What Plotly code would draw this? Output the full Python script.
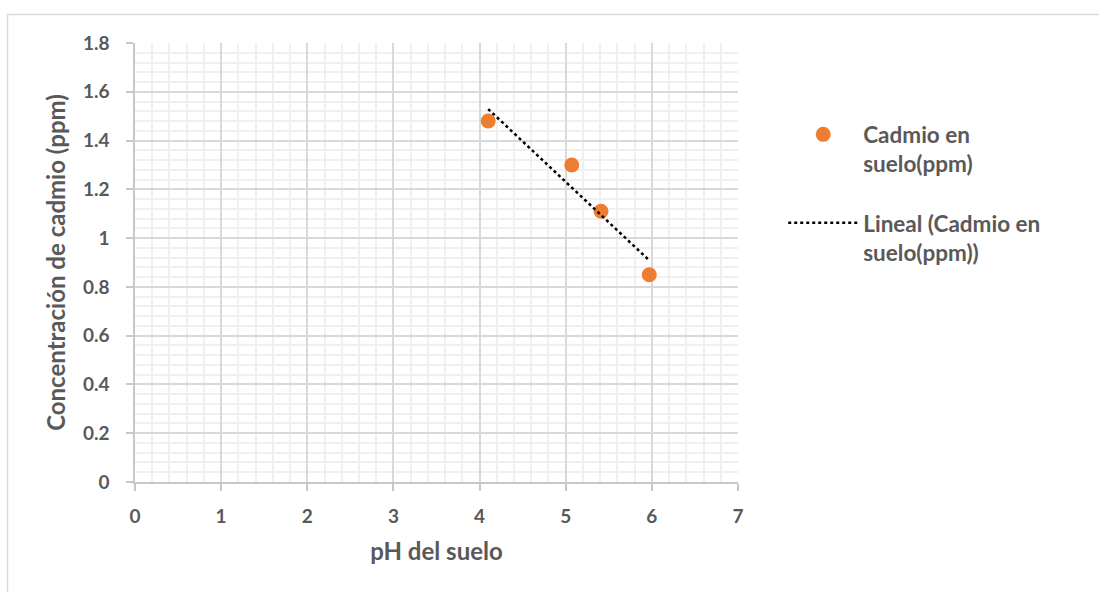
import numpy as np
import plotly.graph_objects as go

ph = [4.1, 5.07, 5.41, 5.97]
cadmio = [1.48, 1.30, 1.11, 0.85]
x_ticks = [0, 1, 2, 3, 4, 5, 6, 7]
y_ticks = [0, 0.2, 0.4, 0.6, 0.8, 1, 1.2, 1.4, 1.6, 1.8]
y_tick_text = ["0", "0.2", "0.4", "0.6", "0.8", "1", "1.2", "1.4", "1.6", "1.8"]

slope, intercept = np.polyfit(ph, cadmio, 1)
tx = [min(ph), max(ph)]
ty = [slope * v + intercept for v in tx]

FONT = "Lato"
GRAY = "#595959"

fig = go.Figure()
fig.add_trace(go.Scatter(
    x=ph, y=cadmio, mode="markers", name="Cadmio en<br>suelo(ppm)",
    marker=dict(color="#ED7D31", size=15), legendgroup="a"))
fig.add_trace(go.Scatter(
    x=tx, y=ty, mode="lines", name="Lineal (Cadmio en<br>suelo(ppm))",
    line=dict(color="black", width=2.5, dash="dot"), legendgroup="b"))

W, H = 1099, 592
L, R, T, B = 135, 361, 43, 110

fig.update_layout(
    width=W, height=H,
    margin=dict(l=L, r=R, t=T, b=B),
    paper_bgcolor="white", plot_bgcolor="white",
    font=dict(family=FONT, color=GRAY, size=18),
    showlegend=True,
    legend=dict(x=1.075, y=0.84, xanchor="left", yanchor="top", valign="top",
                font=dict(family=FONT, size=22.5, color=GRAY, weight="bold"),
                tracegroupgap=27, itemwidth=70, bgcolor="rgba(0,0,0,0)"),
    xaxis=dict(range=[0, 7], tickvals=x_ticks, ticktext=[str(v) for v in x_ticks],
               showgrid=True, gridcolor="#d9d9d9", gridwidth=1.5,
               minor=dict(dtick=0.2, showgrid=True, gridcolor="#f0f0f0", gridwidth=1.5),
               showline=True, linecolor="#c8c8c8", linewidth=1.5,
               ticks="outside", ticklen=7, tickcolor="#c8c8c8", tickwidth=1.5,
               ticklabelstandoff=9,
               zeroline=False,
               tickfont=dict(family=FONT, size=19, color=GRAY, weight="bold"),
               title=dict(text="pH del suelo", standoff=18,
                          font=dict(family=FONT, size=24, color=GRAY, weight="bold"))),
    yaxis=dict(range=[0, 1.8], tickvals=y_ticks, ticktext=y_tick_text,
               showgrid=True, gridcolor="#d9d9d9", gridwidth=1.5,
               minor=dict(dtick=0.04, showgrid=True, gridcolor="#f0f0f0", gridwidth=1.5),
               showline=True, linecolor="#c8c8c8", linewidth=1.5,
               ticks="outside", ticklen=7, tickcolor="#c8c8c8", tickwidth=1.5,
               ticklabelstandoff=13,
               zeroline=False,
               tickfont=dict(family=FONT, size=19, color=GRAY, weight="bold"),
               title=dict(text="Concentración de cadmio (ppm)", standoff=10,
                          font=dict(family=FONT, size=24, color=GRAY, weight="bold"))),
)

pw = W - L - R
ph_ = H - T - B
def px_to_paper_x(p):
    return (p - L) / pw
def px_to_paper_y(p):
    return (H - B - p) / ph_

# chart-area border (top and left edges visible)
fig.add_shape(type="line", xref="paper", yref="paper",
              x0=px_to_paper_x(7.5), x1=px_to_paper_x(1099),
              y0=px_to_paper_y(14.5), y1=px_to_paper_y(14.5),
              line=dict(color="#d9d9d9", width=1.5), layer="below")
fig.add_shape(type="line", xref="paper", yref="paper",
              x0=px_to_paper_x(7.5), x1=px_to_paper_x(7.5),
              y0=px_to_paper_y(14.5), y1=px_to_paper_y(592),
              line=dict(color="#d9d9d9", width=1.5), layer="below")

fig.write_html("out.html")
